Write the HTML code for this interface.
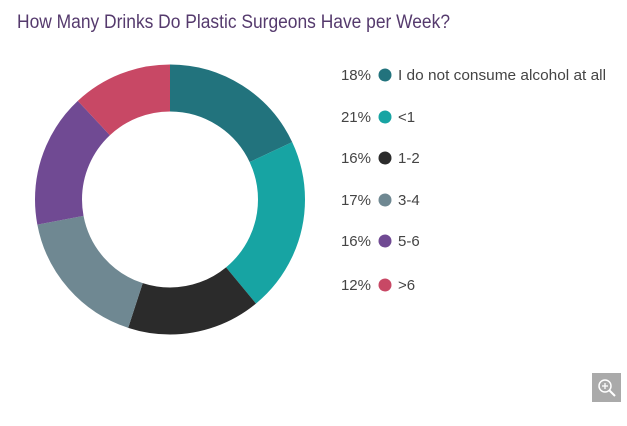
<!DOCTYPE html>
<html><head><style>
body{margin:0;background:#fff;width:627px;height:421px;overflow:hidden;font-family:"Liberation Sans",sans-serif;}
</style></head><body>
<svg width="627" height="421" xmlns="http://www.w3.org/2000/svg">
<text x="17" y="28" font-family="Liberation Sans Narrow, Liberation Sans, sans-serif" font-size="19" fill="#553a6d" textLength="433" lengthAdjust="spacingAndGlyphs">How Many Drinks Do Plastic Surgeons Have per Week?</text>
<g transform="translate(170,199.5) rotate(-90)" fill="none" stroke-width="47">
<circle r="111.5" stroke="#22737d" stroke-dasharray="126.1 700.6" stroke-dashoffset="0"/>
<circle r="111.5" stroke="#17a4a3" stroke-dasharray="147.1 700.6" stroke-dashoffset="-126.1"/>
<circle r="111.5" stroke="#2b2b2b" stroke-dasharray="112.1 700.6" stroke-dashoffset="-273.2"/>
<circle r="111.5" stroke="#6f8892" stroke-dasharray="119.1 700.6" stroke-dashoffset="-385.3"/>
<circle r="111.5" stroke="#704a93" stroke-dasharray="112.1 700.6" stroke-dashoffset="-504.4"/>
<circle r="111.5" stroke="#c84865" stroke-dasharray="84.1 700.6" stroke-dashoffset="-616.5"/>
</g>
<g font-size="15" fill="#444">
<text x="371" y="80" text-anchor="end">18%</text><circle cx="385" cy="75" r="6.5" fill="#22737d"/><text x="398" y="80" textLength="208" lengthAdjust="spacingAndGlyphs">I do not consume alcohol at all</text>
<text x="371" y="122" text-anchor="end">21%</text><circle cx="385" cy="117" r="6.5" fill="#17a4a3"/><text x="398" y="122">&lt;1</text>
<text x="371" y="163" text-anchor="end">16%</text><circle cx="385" cy="158" r="6.5" fill="#2b2b2b"/><text x="398" y="163">1-2</text>
<text x="371" y="205" text-anchor="end">17%</text><circle cx="385" cy="200" r="6.5" fill="#6f8892"/><text x="398" y="205">3-4</text>
<text x="371" y="246" text-anchor="end">16%</text><circle cx="385" cy="241" r="6.5" fill="#704a93"/><text x="398" y="246">5-6</text>
<text x="371" y="290" text-anchor="end">12%</text><circle cx="385" cy="285" r="6.5" fill="#c84865"/><text x="398" y="290">&gt;6</text>
</g>
<rect x="592" y="373" width="29" height="29" fill="#aaa"/>
<circle cx="605" cy="386" r="6" fill="none" stroke="#fff" stroke-width="1.5"/>
<line x1="609.5" y1="390.5" x2="615" y2="396" stroke="#fff" stroke-width="2"/>
<line x1="602" y1="386" x2="608" y2="386" stroke="#fff" stroke-width="1.3"/>
<line x1="605" y1="383" x2="605" y2="389" stroke="#fff" stroke-width="1.3"/>
</svg>
</body></html>
